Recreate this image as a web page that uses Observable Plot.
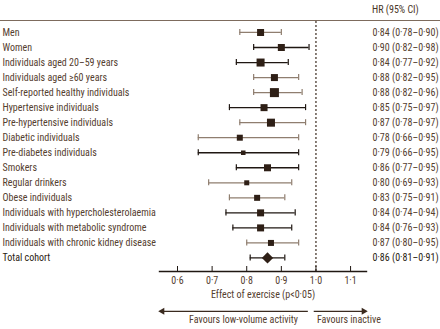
<!DOCTYPE html>
<html>
<head>
<meta charset="utf-8">
<script src="https://cdn.jsdelivr.net/npm/d3@7"></script>
<script src="https://cdn.jsdelivr.net/npm/@observablehq/plot@0.6"></script>
<style>
  body { margin: 0; background: #fff; }
  #wrap { width: 440px; font-family: "Liberation Sans Narrow", "Roboto Condensed", Lato, sans-serif; }
  #head { position: relative; height: 20px; border-bottom: 1.3px solid #7d6b5d; }
  #head span { position: absolute; left: 372px; top: 4px; font-size: 10px; color: #4a3628; }
  svg { display: block; }
</style>
</head>
<body>
<div id="wrap">
  <div id="head"><span>HR (95% CI)</span></div>
  <div id="chart"></div>
</div>
<script>
const groups = [
  "Men", "Women", "Individuals aged 20–59 years", "Individuals aged ≥60 years",
  "Self-reported healthy individuals", "Hypertensive individuals", "Pre-hypertensive individuals",
  "Diabetic individuals", "Pre-diabetes individuals", "Smokers", "Regular drinkers",
  "Obese individuals", "Individuals with hypercholesterolaemia", "Individuals with metabolic syndrome",
  "Individuals with chronic kidney disease", "Total cohort"
];
const hr    = [0.84, 0.90, 0.84, 0.88, 0.88, 0.85, 0.87, 0.78, 0.79, 0.86, 0.80, 0.83, 0.84, 0.84, 0.87, 0.86];
const lower = [0.78, 0.82, 0.77, 0.82, 0.82, 0.75, 0.78, 0.66, 0.66, 0.77, 0.69, 0.75, 0.74, 0.76, 0.80, 0.81];
const upper = [0.90, 0.98, 0.92, 0.95, 0.96, 0.97, 0.97, 0.95, 0.95, 0.95, 0.93, 0.91, 0.94, 0.93, 0.95, 0.91];
const weight = [7, 7, 8, 7, 9, 7, 8, 6, 4.5, 7, 5, 6, 7, 7, 6, 9];
const lineTone = ["b","k","k","b","b","k","b","b","k","k","b","b","k","k","b","k"];
const xTicks = [0.6, 0.7, 0.8, 0.9, 1.0, 1.1];

const fmt = v => v.toFixed(2).replace(".", "·");
const data = groups.map((g, i) => ({
  g, i, hr: hr[i], lo: lower[i], hi: upper[i], w: weight[i], tone: lineTone[i],
  total: i === groups.length - 1,
  label: `${fmt(hr[i])} (${fmt(lower[i])}–${fmt(upper[i])})`
}));
const rows = data.filter(d => !d.total);
const totalRow = data.filter(d => d.total);

const xDomain = [0.548, 1.146];
const yDomain = [-0.73, 15.9];
const dark = "#2e1f16";
const toneColor = {b: "#8f7e6f", k: "#1f1712"};
const textColor = "#55402f";

const chart = Plot.plot({
  width: 440,
  height: 308,
  marginTop: 0,
  marginBottom: 58,
  marginLeft: 159,
  marginRight: 74,
  style: {fontFamily: "\"Liberation Sans Narrow\", \"Roboto Condensed\", Lato, sans-serif", fontSize: "10px", background: "#fff"},
  x: {domain: xDomain},
  y: {domain: yDomain, reverse: true, axis: null},
  r: {type: "linear", domain: [0, 10], range: [0, 10 / 1.77]},
  marks: [
    Plot.ruleX([1], {stroke: "#3a2a1f", strokeWidth: 1.2, strokeDasharray: "2,2"}),
    Plot.frame({anchor: "bottom", stroke: "#1f1712", strokeWidth: 1.4}),
    Plot.axisX(xTicks, {tickSize: -5, tickPadding: 10, stroke: "#1f1712", fill: textColor, fontSize: 10,
      tickFormat: d => d.toFixed(1).replace(".", "·")}),
    // CI lines
    Plot.ruleY(data, {y: "i", x1: "lo", x2: "hi", stroke: d => toneColor[d.tone], strokeWidth: 1.3}),
    Plot.ruleX(data, {x: "lo", y1: d => d.i - 0.2, y2: d => d.i + 0.2, stroke: d => toneColor[d.tone], strokeWidth: 1.2}),
    Plot.ruleX(data, {x: "hi", y1: d => d.i - 0.2, y2: d => d.i + 0.2, stroke: d => toneColor[d.tone], strokeWidth: 1.2}),
    // markers
    Plot.dot(rows, {x: "hr", y: "i", r: "w", symbol: "square", fill: dark, stroke: "none"}),
    Plot.dot(totalRow, {x: "hr", y: "i", r: "w", symbol: "diamond2", fill: dark, stroke: "none"}),
    // labels
    Plot.text(data, {y: "i", text: "g", frameAnchor: "left", dx: -157, textAnchor: "start",
      fill: d => d.total ? "#2a1c12" : textColor, fontWeight: d => d.total ? "bold" : "normal", fontSize: 10}),
    Plot.text(data, {y: "i", text: "label", frameAnchor: "right", dx: 6, textAnchor: "start",
      fill: d => d.total ? "#2a1c12" : textColor, fontWeight: d => d.total ? "bold" : "normal", fontSize: 10}),
    // axis title
    Plot.text(["Effect of exercise (p<0·05)"], {frameAnchor: "bottom", dy: 26, fill: textColor, fontSize: 10}),
    // favours arrows
    Plot.ruleY([{a: xDomain[0] + 0.006, b: 0.978}, {a: 0.995, b: xDomain[1] - 0.006}],
      {y: 18.55, x1: "a", x2: "b", stroke: "#3a2a1f", strokeWidth: 1.4}),
    Plot.dot([{x: xDomain[0] + 0.008, rot: -90}, {x: xDomain[1] - 0.008, rot: 90}],
      {x: "x", y: 18.55, symbol: "triangle", r: 2.6, rotate: "rot", fill: "#3a2a1f", stroke: "none"}),
    Plot.text(["Favours low-volume activity"], {x: 1, frameAnchor: "bottom", dx: -18, dy: 51, textAnchor: "end", fill: textColor, fontSize: 10}),
    Plot.text(["Favours inactive"], {x: 1, frameAnchor: "bottom", dx: 1, dy: 51, textAnchor: "start", fill: textColor, fontSize: 10})
  ]
});
document.getElementById("chart").appendChild(chart);
</script>
</body>
</html>
